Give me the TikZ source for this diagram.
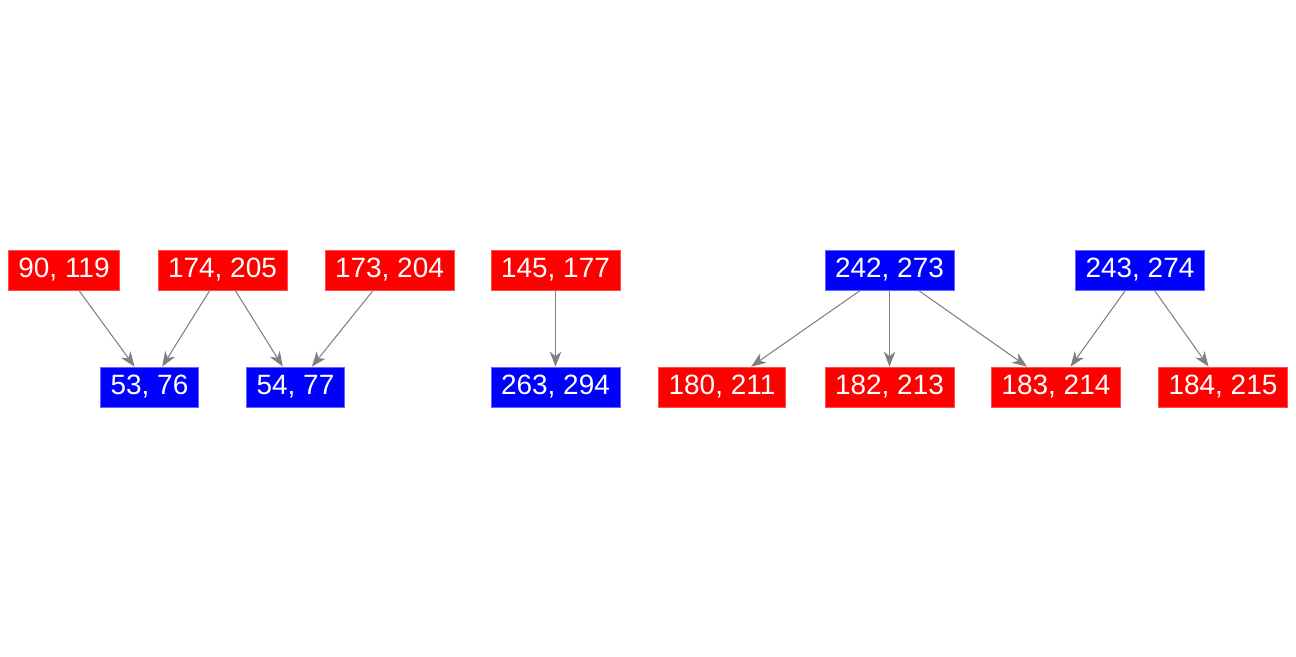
\documentclass[tikz,border=0pt]{standalone}
\usepackage{fontspec}
\setmainfont{Liberation Sans}
\usepackage{xcolor}
\usetikzlibrary{arrows.meta,positioning}

\begin{document}
\begin{tikzpicture}[
	redbox/.style={fill=red,draw=red!70!white,line width=0.4pt,text=white,inner sep=0pt,inner xsep=0.2cm,minimum height=0.8cm,font=\fontsize{15.9}{19}\selectfont},
	bluebox/.style={redbox,fill=blue,draw=blue!60!white},
	arr/.style={-{Stealth[length=3mm,width=2.3mm,inset=0.9mm]},draw=gray,line width=0.6pt}]
	\useasboundingbox (0,0) rectangle (25.92,13.12);
	
	% first group
	\node[redbox] (a1) at (1.28,7.72) {90, 119};
	\node[redbox] (a2) at (4.45,7.72) {174, 205};
	\node[redbox] (a3) at (7.79,7.72) {173, 204};
	\node[bluebox] (b1) at (2.99,5.38) {53, 76};
	\node[bluebox] (b2) at (5.91,5.38) {54, 77};
	
	\draw[arr] (a1)--(b1);
	\draw[arr] (a2)--(b1);
	\draw[arr] (a2)--(b2);
	\draw[arr] (a3)--(b2);
	
	% second group
	\node[redbox] (c1) at (11.11,7.72) {145, 177};
	\node[bluebox] (d1) at (11.11,5.38) {263, 294};
	
	\draw[arr] (c1)--(d1);
	
	% third group
	\node[bluebox] (e1) at (17.79,7.72) {242, 273};
	\node[bluebox] (e2) at (22.80,7.72) {243, 274};
	\node[redbox] (f1) at (14.44,5.38) {180, 211};
	\node[redbox] (f2) at (17.79,5.38) {182, 213};
	\node[redbox] (f3) at (21.12,5.38) {183, 214};
	\node[redbox] (f4) at (24.46,5.38) {184, 215};
	
	\draw[arr] (e1)--(f1);
	\draw[arr] (e1)--(f2);
	\draw[arr] (e1)--(f3);
	\draw[arr] (e2)--(f3);
	\draw[arr] (e2)--(f4);
\end{tikzpicture}
\end{document}
